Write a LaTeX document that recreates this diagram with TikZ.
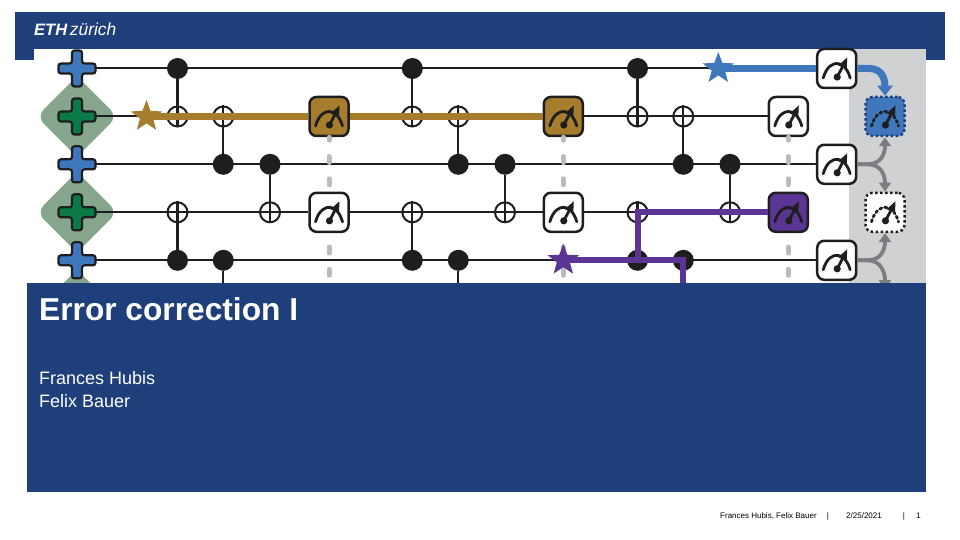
\documentclass[tikz,border=0pt]{standalone}
\usepackage{fontspec}
\setmainfont{Liberation Sans}
\usetikzlibrary{shapes.geometric,arrows.meta}
\definecolor{navy}{HTML}{1F3F7A}
\definecolor{ink}{HTML}{1E1E20}
\definecolor{panel}{HTML}{CFD1D3}
\definecolor{dashgray}{HTML}{BBBBBD}
\definecolor{arrowgray}{HTML}{7C7D80}
\definecolor{patch}{HTML}{85A68C}
\definecolor{crossblue}{HTML}{3E77BC}
\definecolor{crossgreen}{HTML}{0B7A46}
\definecolor{gold}{HTML}{A67C2D}
\definecolor{violet}{HTML}{5A3593}
\tikzset{
  pics/plusgate/.style={code={
    \draw[line width=2.2pt, draw=ink, fill=#1, rounded corners=2.5pt]
      (-5,-18) -- (5,-18) -- (5,-5) -- (18.5,-5) -- (18.5,5) -- (5,5) -- (5,18)
      -- (-5,18) -- (-5,5) -- (-18.5,5) -- (-18.5,-5) -- (-5,-5) -- cycle;
  }},
  pics/gauge/.style={code={
    \draw[line width=2.8pt, draw=ink, line cap=round, #1] (-13.5,9.5) .. controls (-10,-3) and (-3,-5) .. (0,-5) .. controls (3,-5) and (10,-3) .. (13.5,9.5);
    \draw[line width=2.8pt, draw=ink] (0.5,8.5) -- (7,-4);
    \fill[ink] (0.5,8.5) circle (3.6);
    \fill[ink] (10.5,-11) -- (1.5,-3) -- (10,0) -- cycle;
  }}
}
\begin{document}
\begin{tikzpicture}[x=1pt, y=-1pt,
    wire/.style={line width=2pt, draw=ink},
    ctrl/.style={line width=2.2pt, draw=ink},
    dot/.style={circle, fill=ink, inner sep=0pt, minimum size=21pt},
    target/.style={circle, draw=ink, line width=2pt, inner sep=0pt, minimum size=20pt},
    qubit/.style={inner sep=0pt, minimum size=37pt},
    patchbox/.style={diamond, fill=patch, inner sep=0pt, minimum size=81pt, rounded corners=10pt},
    meter/.style={rectangle, draw=ink, fill=white, line width=2.5pt, rounded corners=7pt, inner sep=0pt, minimum size=39pt},
    dotmeter/.style={meter, dash pattern=on 2.5pt off 2.5pt},
    hit/.style={star, star points=5, star point ratio=2.4, inner sep=0pt, minimum size=33pt},
    chain/.style={line width=#1, line cap=butt},
    flow/.style={line width=3.8pt, draw=arrowgray, -{Triangle[width=12pt,length=9pt]}},
    gap/.style={line width=5pt, draw=dashgray, line cap=round, dash pattern=on 6pt off 16.3pt, dash phase=3pt},
    gaplow/.style={gap, dash phase=8.3pt},
    every node/.style={text=black}]
  \useasboundingbox (0,0) rectangle (960,540);

  % slide frame
  \fill[navy] (15,12) rectangle (945,49);
  \fill[navy] (15,49) rectangle (34,60);
  \fill[navy] (926,49) rectangle (945,60);
  \fill[panel] (849,49) rectangle (926,283);
  \node[anchor=base west, inner sep=0pt, text=white] (logo) at (34,36) {\fontsize{16.5}{18}\selectfont\bfseries\itshape ETH\,\mdseries\fontsize{17.4}{18}\selectfont zürich};

  % stabilizer patches
  \node[patchbox] (p1) at (77,116.5) {};
  \node[patchbox] (p2) at (77,212.3) {};
  \node[patchbox] (p3) at (77,310) {};

  % qubits and readout
  \node[qubit] (q1) at (77,68.5) {};
  \node[qubit] (q2) at (77,116.5) {};
  \node[qubit] (q3) at (77,164.3) {};
  \node[qubit] (q4) at (77,212.3) {};
  \node[qubit] (q5) at (77,260.3) {};
  \node[meter, fill=gold] (m1) at (329,116.5) {};
  \node[meter] (m2) at (329,212.3) {};
  \node[meter, fill=gold] (m3) at (563.3,116.5) {};
  \node[meter] (m4) at (563.3,212.3) {};
  \node[meter] (m5) at (788.3,116.5) {};
  \node[meter, fill=violet] (m6) at (788.3,212.3) {};
  \node[meter] (r1) at (836.7,68.5) {};
  \node[meter] (r3) at (836.7,164.3) {};
  \node[meter] (r5) at (836.7,260.3) {};
  \node[dotmeter, draw=navy, fill=crossblue] (f1) at (885,116.5) {};
  \node[dotmeter] (f2) at (885,212.3) {};
  \coordinate (g1) at (329,283);
  \coordinate (g2) at (563.3,283);
  \coordinate (g3) at (788.3,283);
  \coordinate (f3) at (885,289);

  % gate nodes, three rounds
  \node[dot] (d1) at (177.5,68.5) {};
  \node[target] (t1) at (177.5,116.5) {};
  \node[target] (t2) at (223.3,116.5) {};
  \node[dot] (d2) at (223.3,164.3) {};
  \node[dot] (d3) at (270,164.3) {};
  \node[target] (t3) at (270,212.3) {};
  \node[target] (t4) at (177.5,212.3) {};
  \node[dot] (d4) at (177.5,260.3) {};
  \node[dot] (d5) at (223.3,260.3) {};
  \coordinate (e5) at (223.3,283);
  \node[dot] (d6) at (412.3,68.5) {};
  \node[target] (t6) at (412.3,116.5) {};
  \node[target] (t7) at (458.3,116.5) {};
  \node[dot] (d7) at (458.3,164.3) {};
  \node[dot] (d8) at (505,164.3) {};
  \node[target] (t8) at (505,212.3) {};
  \node[target] (t9) at (412.3,212.3) {};
  \node[dot] (d9) at (412.3,260.3) {};
  \node[dot] (d10) at (458.3,260.3) {};
  \coordinate (e10) at (458.3,283);
  \node[dot] (d11) at (637.5,68.5) {};
  \node[target] (t11) at (637.5,116.5) {};
  \node[target] (t12) at (683.3,116.5) {};
  \node[dot] (d12) at (683.3,164.3) {};
  \node[dot] (d13) at (730,164.3) {};
  \node[target] (t13) at (730,212.3) {};
  \node[target] (t14) at (637.5,212.3) {};
  \node[dot] (d14) at (637.5,260.3) {};
  \node[dot] (d15) at (683.3,260.3) {};
  \coordinate (e15) at (683.3,296);

  % wires
  \draw[wire] (q1.east) -- (r1.west);
  \draw[wire] (q2.east) -- (m1.west);
  \draw[wire] (m1.east) -- (m3.west);
  \draw[wire] (m3.east) -- (m5.west);
  \draw[wire] (q3.east) -- (r3.west);
  \draw[wire] (q4.east) -- (m2.west);
  \draw[wire] (m2.east) -- (m4.west);
  \draw[wire] (m4.east) -- (m6.west);
  \draw[wire] (q5.east) -- (r5.west);
  \draw[ctrl] (d1) -- (t1.south);
  \draw[ctrl] (d2) -- (t2.north);
  \draw[ctrl] (d3) -- (t3.south);
  \draw[ctrl] (d4) -- (t4.north);
  \draw[ctrl] (d5) -- (e5);
  \draw[ctrl] (d6) -- (t6.south);
  \draw[ctrl] (d7) -- (t7.north);
  \draw[ctrl] (d8) -- (t8.south);
  \draw[ctrl] (d9) -- (t9.north);
  \draw[ctrl] (d10) -- (e10);
  \draw[ctrl] (d11) -- (t11.south);
  \draw[ctrl] (d12) -- (t12.north);
  \draw[ctrl] (d13) -- (t13.south);
  \draw[ctrl] (d14) -- (t14.north);
  \draw[ctrl] (d15) -- (e15);
  \draw[gap] (m1.south) -- (m2.north);
  \draw[gaplow] (m2.south) -- (g1);
  \draw[gap] (m3.south) -- (m4.north);
  \draw[gaplow] (m4.south) -- (g2);
  \draw[gap] (m5.south) -- (m6.north);
  \draw[gaplow] (m6.south) -- (g3);

  % error chains
  \node[hit, fill=gold] (s1) at (146.5,116.5) {};
  \node[hit, fill=violet] (s2) at (563.3,260.3) {};
  \node[hit, fill=crossblue] (s3) at (718.3,68.5) {};
  \draw[chain=7pt, draw=gold] (s1.center) -- (m1.west);
  \draw[chain=7pt, draw=gold] (m1.east) -- (m3.west);
  \draw[chain=6pt, draw=violet] (m6.west) -- (t14.center) -- (d14.center);
  \draw[chain=6pt, draw=violet] (s2.center) -- (d15.center) -- (e15);
  \draw[chain=7pt, draw=crossblue] (s3.center) -- (r1.west);

  % decoder feed
  \draw[flow] (r3.east) -- ++(10,0) .. controls +(14,0) and +(0,16) .. (f1.south);
  \draw[flow] (r3.east) -- ++(10,0) .. controls +(14,0) and +(0,-16) .. (f2.north);
  \draw[flow] (r5.east) -- ++(10,0) .. controls +(14,0) and +(0,16) .. (f2.south);
  \draw[flow] (r5.east) -- ++(10,0) .. controls +(14,0) and +(0,-16) .. (f3);
  \draw[line width=7pt, draw=crossblue, -{Triangle[width=15pt,length=10pt]}] (r1.east) -- ++(12,0) .. controls +(13,0) and +(0,-16) .. (f1.north);

  % glyphs on top
  \foreach \q/\c in {q1/crossblue,q2/crossgreen,q3/crossblue,q4/crossgreen,q5/crossblue}
    \pic at (\q) {plusgate=\c};
  \foreach \m in {m1,m2,m3,m4,m5,m6,r1,r3,r5}
    \pic at (\m) {gauge=solid};
  \foreach \m in {f1,f2}
    \pic at (\m) {gauge={dash pattern=on 2.2pt off 3pt}};

  % title block
  \fill[navy] (27,283) rectangle (926,491.5);
  \node[anchor=base west, inner sep=0pt, text=white] (title) at (39,320) {\fontsize{31.7}{36}\selectfont\bfseries Error correction I};
  \node[anchor=base west, inner sep=0pt, text=white] (name1) at (39,384.5) {\fontsize{18}{22}\selectfont Frances Hubis};
  \node[anchor=base west, inner sep=0pt, text=white] (name2) at (39,407) {\fontsize{18}{22}\selectfont Felix Bauer};

  % footer
  \node[anchor=base west, inner sep=0pt] (foot1) at (720,518) {\fontsize{8}{10}\selectfont Frances Hubis, Felix Bauer};
  \node[anchor=base, inner sep=0pt] (sep1) at (828,518) {\fontsize{8}{10}\selectfont |};
  \node[anchor=base west, inner sep=0pt] (foot2) at (846,518) {\fontsize{8}{10}\selectfont 2/25/2021};
  \node[anchor=base, inner sep=0pt] (sep2) at (904,518) {\fontsize{8}{10}\selectfont |};
  \node[anchor=base, inner sep=0pt] (foot3) at (918.5,518) {\fontsize{8}{10}\selectfont 1};
\end{tikzpicture}
\end{document}
